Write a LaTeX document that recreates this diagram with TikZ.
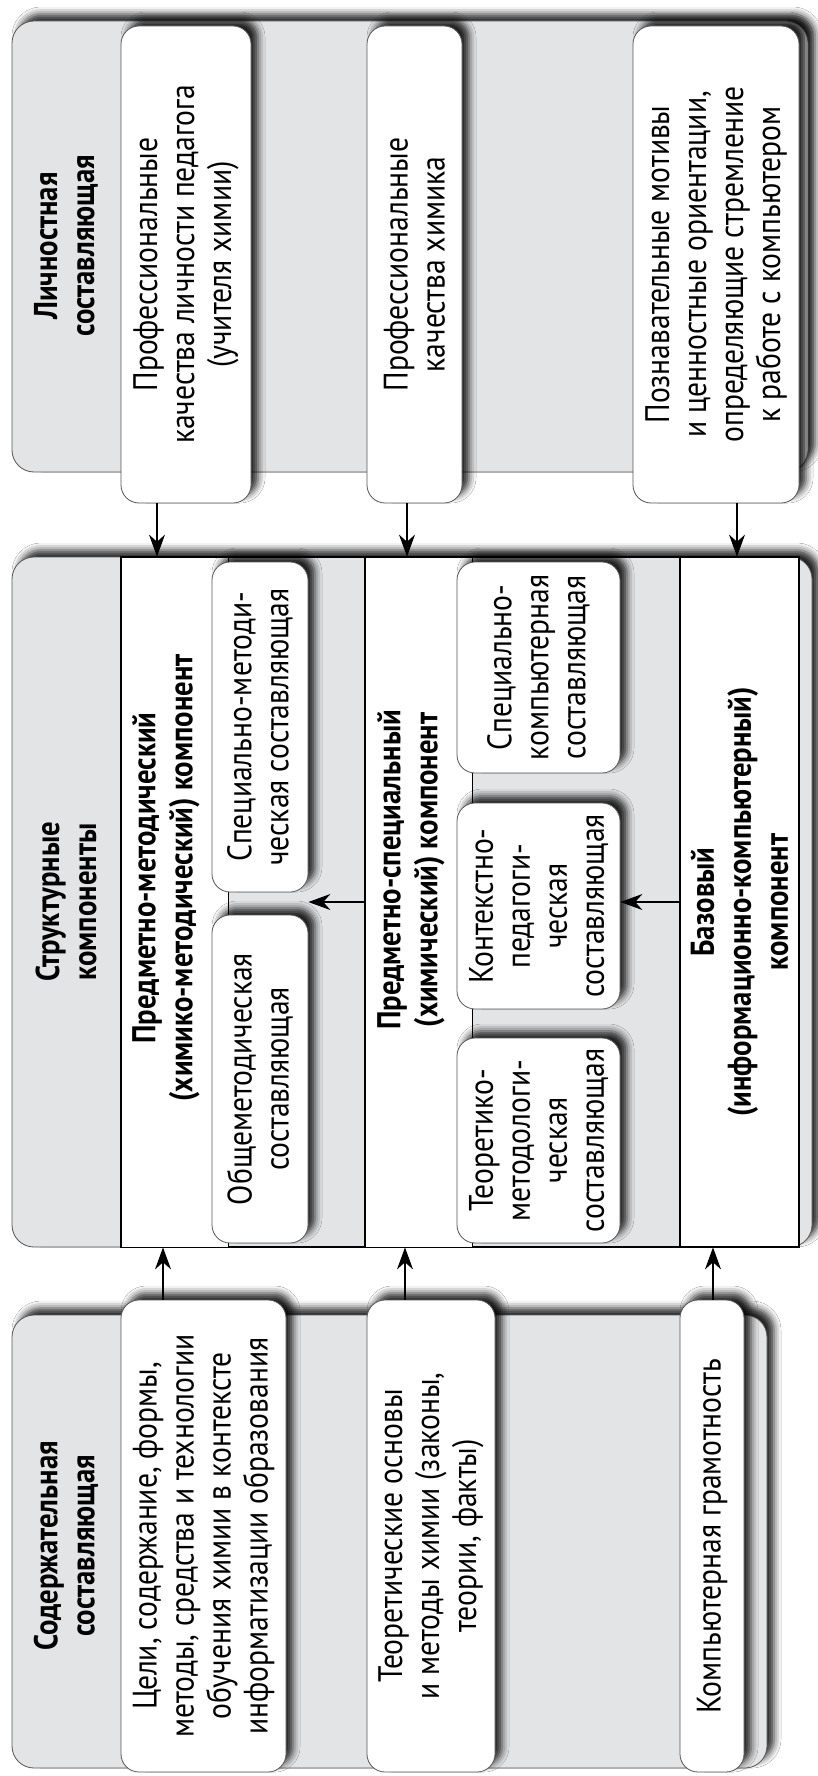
\documentclass[tikz,border=0pt]{standalone}
\usepackage{fontspec}
\setmainfont{PT Sans}[FakeStretch=0.87]
\usetikzlibrary{arrows.meta, positioning, shadows, shadows.blur}

\definecolor{panelfill}{HTML}{E3E4E6}
\definecolor{edgecol}{HTML}{555555}

\tikzset{
  boxshadow/.style={blur shadow={shadow xshift=7pt, shadow yshift=7pt,
                    shadow blur radius=7pt, shadow opacity=85}},
  panel/.style={rectangle, draw=edgecol, fill=panelfill, line width=0.8pt,
                rounded corners=22pt, rotate=90, inner sep=0pt, boxshadow},
  card/.style={rectangle, draw=edgecol, fill=white, line width=0.8pt,
               rounded corners=18pt, rotate=90, inner sep=2pt, align=center,
               font=\fontsize{34}{37}\selectfont, boxshadow},
  heading/.style={rotate=90, align=center, inner sep=0pt,
                  font=\fontsize{33}{37}\selectfont\bfseries},
  rowbox/.style={rectangle, draw=black, line width=1.1pt, rotate=90, inner sep=0pt},
  arr/.style={-{Stealth[length=22pt, width=16pt]}, line width=1.1pt}
}

\begin{document}
\begin{tikzpicture}[x=1pt, y=-1pt]
  \path[use as bounding box, fill=white] (0,0) rectangle (818,1776);

  % Личностная составляющая
  \node[panel, minimum width=451pt, minimum height=796pt] (lich) at (410,246.5) {};
  \node[heading] (lichT) at (66,246) {Личностная\\составляющая};
  \node[card, minimum width=477pt, minimum height=130pt] (pk1) at (186,264.5)
    {Профессиональные\\качества личности педагога\\(учителя химии)};
  \node[card, minimum width=477pt, minimum height=95pt] (pk2) at (414.5,264.5)
    {Профессиональные\\качества химика};
  \node[card, minimum width=477pt, minimum height=166pt] (pk3) at (716,264.5)
    {Познавательные мотивы\\и ценностные ориентации,\\определяющие стремление\\к работе с компьютером};

  % Структурные компоненты
  \node[panel, minimum width=690pt, minimum height=800pt] (struct) at (412,902) {};
  \node[heading] (structT) at (66,902) {Структурные\\компоненты};

  % row 1
  \node[rowbox, minimum width=690pt, minimum height=244pt] (r1) at (243,902) {};
  \node[rowbox, fill=white, line width=0.8pt, minimum width=690pt, minimum height=107pt] (w1) at (174.5,902) {};
  \node[heading] (r1T) at (166,878) {Предметно-методический\\(химико-методический) компонент};
  \node[card, minimum width=330pt, minimum height=96pt] (sm) at (260,727)
    {Специально-методи-\\ческая составляющая};
  \node[card, minimum width=328pt, minimum height=96pt] (om) at (260,1079)
    {Общеметодическая\\составляющая};

  % row 2
  \node[rowbox, minimum width=690pt, minimum height=315pt] (r2) at (522.5,902) {};
  \node[rowbox, fill=white, line width=0.8pt, minimum width=690pt, minimum height=107pt] (w2) at (418.5,902) {};
  \node[heading] (r2T) at (411,870) {Предметно-специальный\\(химический) компонент};
  \node[card, minimum width=211pt, minimum height=163pt] (sk) at (538.5,667.5)
    {Специально-\\компьютерная\\составляющая};
  \node[card, minimum width=206pt, minimum height=163pt] (kp) at (538.5,906)
    {Контекстно-\\педагоги-\\ческая\\составляющая};
  \node[card, minimum width=205pt, minimum height=163pt] (tm) at (538.5,1140.5)
    {Теоретико-\\методологи-\\ческая\\составляющая};

  % row 3
  \node[rowbox, fill=white, align=center, font=\fontsize{33}{37}\selectfont\bfseries,
        minimum width=690pt, minimum height=119pt] (r3) at (739.5,902)
    {Базовый\\(информационно-компьютерный)\\компонент};

  \draw[arr] (r2.north) -- (sm.south |- r2.north);
  \draw[arr] (r3.north) -- (kp.south |- r3.north);

  % Содержательная составляющая
  \node[panel, minimum width=453pt, minimum height=755pt] (sod) at (389.5,1541.5) {};
  \node[heading] (sodT) at (66,1546) {Содержательная\\составляющая};
  \node[card, minimum width=472pt, minimum height=165pt] (cb1) at (203.5,1536)
    {Цели, содержание, формы,\\методы, средства и технологии\\обучения химии в контексте\\информатизации образования};
  \node[card, minimum width=472pt, minimum height=128pt] (cb2) at (431,1536)
    {Теоретические основы\\и методы химии (законы,\\теории, факты)};
  \node[card, minimum width=472pt, minimum height=64pt] (cb3) at (712,1536)
    {Компьютерная грамотность};

  % arrows to the structure
  \foreach \src/\xx in {pk1/157, pk2/407, pk3/737}
    \draw[arr] (\xx,0 |- \src.west) -- (\xx,0 |- struct.east);
  \foreach \src/\xx in {cb1/163, cb2/405, cb3/713}
    \draw[arr] (\xx,0 |- \src.east) -- (\xx,0 |- struct.west);
\end{tikzpicture}
\end{document}
